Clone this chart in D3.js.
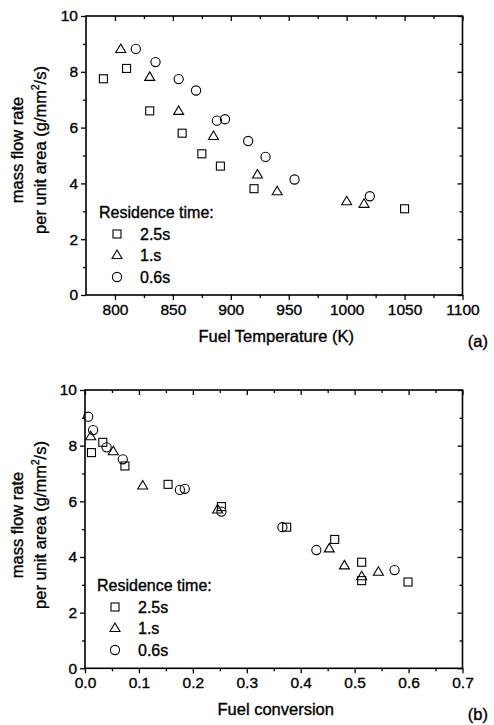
<!DOCTYPE html>
<html>
<head>
<meta charset="utf-8">
<script src="https://cdn.jsdelivr.net/npm/d3@7"></script>
<style>
  body { margin: 0; background: #fff; }
  svg { display: block; font-family: Arial, "Liberation Sans", sans-serif; }
  svg text { fill: #000; stroke: #000; stroke-width: 0.35px; }
  .axis path { display: none; }
  .axis line { stroke: #000; stroke-width: 1.3; }
  .axis text { font-size: 15.5px; }
</style>
</head>
<body>
<svg id="chart" width="494" height="725"></svg>
<script>
// Panel (a): mass flow rate vs fuel temperature
const tempSquareX = [790, 810, 830, 858, 875, 891, 920, 1050];
const tempSquareY = [7.75, 8.12, 6.6, 5.8, 5.06, 4.62, 3.81, 3.09];
const tempTriangleX = [805, 830, 855, 885, 923, 940, 1000, 1015];
const tempTriangleY = [8.8, 7.8, 6.58, 5.68, 4.3, 3.7, 3.34, 3.25];
const tempCircleX = [818, 835, 855, 870, 888, 895, 915, 930, 955, 1020];
const tempCircleY = [8.82, 8.35, 7.74, 7.33, 6.25, 6.3, 5.52, 4.95, 4.14, 3.54];

// Panel (b): mass flow rate vs fuel conversion
const convSquareX = [0.012, 0.033, 0.074, 0.154, 0.253, 0.374, 0.463, 0.513, 0.513, 0.599];
const convSquareY = [7.75, 8.12, 7.27, 6.61, 5.81, 5.07, 4.63, 3.81, 3.15, 3.1];
const convTriangleX = [0.0105, 0.0525, 0.107, 0.246, 0.453, 0.481, 0.513, 0.544];
const convTriangleY = [8.32, 7.78, 6.55, 5.69, 4.29, 3.68, 3.29, 3.45];
const convCircleX = [0.006, 0.015, 0.04, 0.07, 0.176, 0.185, 0.253, 0.366, 0.429, 0.574];
const convCircleY = [9.04, 8.56, 7.94, 7.51, 6.41, 6.45, 5.63, 5.07, 4.25, 3.53];

const seriesNames = ["2.5s", "1.s", "0.6s"];
const seriesShapes = ["square", "triangle", "circle"];
const legendTitle = "Residence time:";

const tempTicks = [800, 850, 900, 950, 1000, 1050, 1100];
const tempMinorTicks = [825, 875, 925, 975, 1025, 1075];
const convTicks = [0, 0.1, 0.2, 0.3, 0.4, 0.5, 0.6, 0.7];
const convMinorTicks = [0.05, 0.15, 0.25, 0.35, 0.45, 0.55, 0.65];
const flowTicks = [0, 2, 4, 6, 8, 10];
const flowMinorTicks = [1, 3, 5, 7, 9];

const svg = d3.select("#chart");

// draw a marker shape centred at 0,0
function marker(g, shape) {
    if (shape === "square") {
        g.append("rect").attr("x", -4).attr("y", -4).attr("width", 8).attr("height", 8);
    } else if (shape === "triangle") {
        g.append("path").attr("d", "M0,-5.5 L5,3 L-5,3 Z");
    } else {
        g.append("circle").attr("r", 4.6);
    }
    g.attr("fill", "none").attr("stroke", "#000").attr("stroke-width", 1.1);
}

function drawPanel(cfg) {
    const x = d3.scaleLinear().domain(cfg.xDomain).range([cfg.left, cfg.right]);
    const y = d3.scaleLinear().domain([0, 10]).range([cfg.bottom, cfg.top]);
    const g = svg.append("g");

    // major + minor ticks on all four sides (outer on bottom/left, inner on top/right)
    g.append("g").attr("class", "axis").attr("transform", `translate(0,${cfg.bottom})`)
        .call(d3.axisBottom(x).tickValues(cfg.xTicks).tickSize(5).tickPadding(4).tickFormat(cfg.xFormat));
    g.append("g").attr("class", "axis").attr("transform", `translate(0,${cfg.bottom})`)
        .call(d3.axisBottom(x).tickValues(cfg.xMinor).tickSize(3).tickFormat(""));
    g.append("g").attr("class", "axis").attr("transform", `translate(${cfg.left},0)`)
        .call(d3.axisLeft(y).tickValues(flowTicks).tickSize(5).tickPadding(3));
    g.append("g").attr("class", "axis").attr("transform", `translate(${cfg.left},0)`)
        .call(d3.axisLeft(y).tickValues(flowMinorTicks).tickSize(3).tickFormat(""));
    g.append("g").attr("class", "axis").attr("transform", `translate(0,${cfg.top})`)
        .call(d3.axisTop(x).tickValues(cfg.xTicks).tickSize(-5).tickFormat(""));
    g.append("g").attr("class", "axis").attr("transform", `translate(0,${cfg.top})`)
        .call(d3.axisTop(x).tickValues(cfg.xMinor).tickSize(-3).tickFormat(""));
    g.append("g").attr("class", "axis").attr("transform", `translate(${cfg.right},0)`)
        .call(d3.axisRight(y).tickValues(flowTicks).tickSize(-5).tickFormat(""));
    g.append("g").attr("class", "axis").attr("transform", `translate(${cfg.right},0)`)
        .call(d3.axisRight(y).tickValues(flowMinorTicks).tickSize(-3).tickFormat(""));

    // frame
    g.append("rect")
        .attr("x", cfg.left).attr("y", cfg.top)
        .attr("width", cfg.right - cfg.left).attr("height", cfg.bottom - cfg.top)
        .attr("fill", "none").attr("stroke", "#000").attr("stroke-width", 1.6);

    // data points
    cfg.series.forEach((s, i) => {
        s.x.forEach((v, j) => {
            const m = g.append("g").attr("transform", `translate(${x(v)},${y(s.y[j])})`);
            marker(m, seriesShapes[i]);
        });
    });

    // legend
    const lg = g.append("g").attr("transform", `translate(${cfg.legendX},${cfg.legendY})`);
    lg.append("text").attr("x", 0).attr("y", 0).attr("font-size", "16px").text(legendTitle);
    seriesNames.forEach((name, i) => {
        const row = lg.append("g").attr("transform", `translate(0,${16 + i * 21.5})`);
        marker(row.append("g").attr("transform", "translate(18,0)"), seriesShapes[i]);
        row.append("text").attr("x", 41).attr("y", 5.5).attr("font-size", "16px").text(name);
    });

    // y axis title, two lines
    const yt = g.append("g").attr("transform", `translate(0,${cfg.yTitleCenter}) rotate(-90)`);
    yt.append("text").attr("x", 0).attr("y", 23).attr("text-anchor", "middle")
        .attr("font-size", "16.5px").text("mass flow rate");
    const t2 = yt.append("text").attr("x", 0).attr("y", 46).attr("text-anchor", "middle")
        .attr("font-size", "16.5px");
    t2.append("tspan").text("per unit area (g/mm");
    t2.append("tspan").attr("font-size", "10px").attr("dy", -7).text("2");
    t2.append("tspan").attr("dy", 7).text("/s)");

    // x axis title and panel tag
    g.append("text").attr("x", (cfg.left + cfg.right) / 2 + 2).attr("y", cfg.bottom + 47)
        .attr("text-anchor", "middle").attr("font-size", "16.5px").text(cfg.xTitle);
    g.append("text").attr("x", 488).attr("y", cfg.bottom + 52)
        .attr("text-anchor", "end").attr("font-size", "16.5px").text(cfg.tag);
}

drawPanel({
    xDomain: [775, 1100], left: 86, right: 462.5, top: 16, bottom: 295,
    xTicks: tempTicks, xMinor: tempMinorTicks, xFormat: d3.format("d"),
    series: [
        { x: tempSquareX, y: tempSquareY },
        { x: tempTriangleX, y: tempTriangleY },
        { x: tempCircleX, y: tempCircleY }
    ],
    legendX: 99, legendY: 218, yTitleCenter: 150,
    xTitle: "Fuel Temperature (K)", tag: "(a)"
});

drawPanel({
    xDomain: [0, 0.7], left: 85, right: 462.5, top: 390, bottom: 668.3,
    xTicks: convTicks, xMinor: convMinorTicks, xFormat: d3.format(".1f"),
    series: [
        { x: convSquareX, y: convSquareY },
        { x: convTriangleX, y: convTriangleY },
        { x: convCircleX, y: convCircleY }
    ],
    legendX: 97, legendY: 591, yTitleCenter: 525,
    xTitle: "Fuel conversion", tag: "(b)"
});
</script>
</body>
</html>
